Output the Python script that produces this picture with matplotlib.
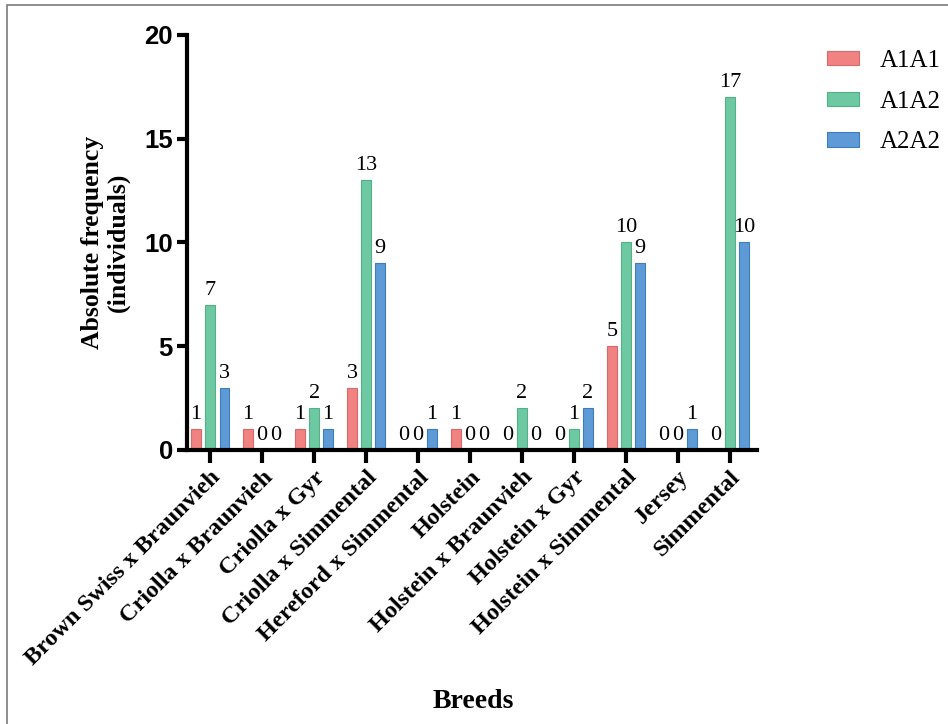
#!/usr/bin/python3

"""
Absolute frequency of A1A1 / A1A2 / A2A2 genotypes per breed, grouped bar chart.
Saved as out.png
"""

import matplotlib.pyplot as plt
from matplotlib import patches
import numpy as np

breeds = ["Brown Swiss x Braunvieh", "Criolla x Braunvieh", "Criolla x Gyr",
          "Criolla x Simmental", "Hereford x Simmental", "Holstein",
          "Holstein x Braunvieh", "Holstein x Gyr", "Holstein x Simmental",
          "Jersey", "Simmental"]
a1a1 = [1, 1, 1, 3, 0, 1, 0, 0, 5, 0, 0]
a1a2 = [7, 0, 2, 13, 0, 0, 2, 1, 10, 0, 17]
a2a2 = [3, 0, 1, 9, 1, 0, 0, 2, 9, 1, 10]

series = [("A1A1", a1a1, "#F08282", "#D86A6A"),
          ("A1A2", a1a2, "#6CC9A2", "#55B08A"),
          ("A2A2", a2a2, "#5E9AD6", "#3F7CBC")]

SERIF = "Liberation Serif"
SANS = "Liberation Sans"


def main():
    fig = plt.figure(figsize=(9.48, 7.24), dpi=100)
    ax = fig.add_axes([0.197, 0.3785, 0.6015, 0.5732])

    # gray frame of the original figure panel (top and left only visible)
    fig.add_artist(patches.Rectangle((0.0075, -0.1), 1.2, 1.093, transform=fig.transFigure,
                                     fill=False, edgecolor="#7a7a7a", linewidth=1.2))

    x = np.arange(len(breeds))
    width = 0.18
    step = 0.27
    for i, (name, vals, color, edge) in enumerate(series):
        pos = x + (i - 1) * step
        bars = ax.bar(pos, vals, width, color=color, edgecolor=edge, linewidth=0.8, label=name)
        for b, v in zip(bars, vals):
            ax.text(b.get_x() + b.get_width() / 2, v + 0.25, str(v), ha="center", va="bottom",
                    fontsize=16, family=SERIF)

    ax.set_xlim(-0.45, 10.52)
    ax.set_ylim(0, 20)
    ax.set_yticks([0, 5, 10, 15, 20])
    ax.set_xticks(x)
    ax.set_xticklabels(breeds, rotation=45, ha="right", rotation_mode="anchor",
                       fontsize=17.5, family=SERIF, fontweight="bold")
    for lab in ax.get_yticklabels():
        lab.set_fontfamily(SANS)
        lab.set_fontweight("bold")
        lab.set_fontsize(18.5)

    for side in ["top", "right"]:
        ax.spines[side].set_visible(False)
    for side in ["left", "bottom"]:
        ax.spines[side].set_linewidth(3)
    ax.tick_params(axis="y", length=7, width=3, pad=3)
    ax.tick_params(axis="x", length=9, width=3, pad=3)

    ax.set_ylabel("Absolute frequency\n(individuals)", fontsize=18.5, family=SERIF,
                  fontweight="bold", linespacing=1.15)
    ax.yaxis.set_label_coords(-0.10, 0.5)
    ax.set_xlabel("Breeds", fontsize=20, family=SERIF, fontweight="bold")
    ax.xaxis.set_label_coords(0.503, -0.575)

    ax.legend(loc="upper left", bbox_to_anchor=(1.105, 0.988), frameon=False, borderaxespad=0,
              prop={"family": SERIF, "size": 18}, handlelength=1.3, handleheight=0.5,
              labelspacing=0.75, handletextpad=0.8)

    fig.savefig("out.png", dpi=100)


if __name__ == '__main__':
    main()
